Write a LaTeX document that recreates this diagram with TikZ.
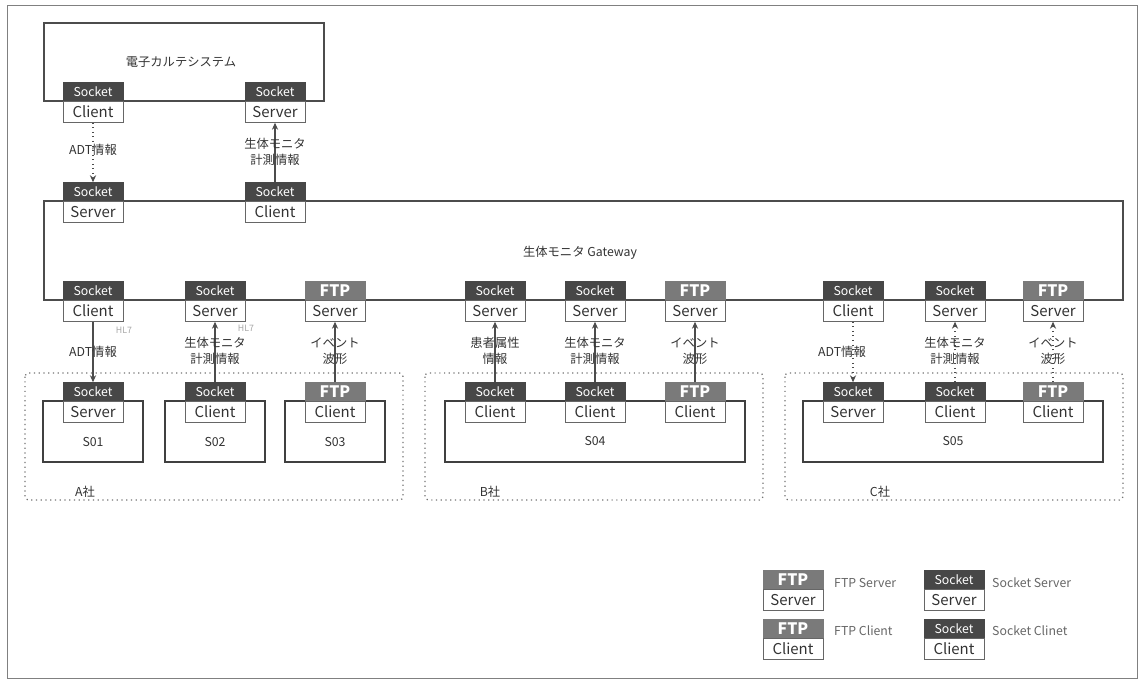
\documentclass[tikz,border=0pt]{standalone}
\usepackage{fontspec}
\setmainfont{Noto Sans CJK JP}
\usetikzlibrary{arrows.meta}

\newcommand{\tabbox}[6]{%
  \node[#4, anchor=south] (#1h) at (#2,#3) {#5};
  \node[role, anchor=north] (#1) at (#2,#3) {#6};
}

\begin{document}
\begin{tikzpicture}[>=Stealth, x=0.02cm, y=-0.02cm,
    line/.style={draw=black!70, line width=0.6pt},
    sysline/.style={draw=black!75, line width=0.8pt},
    grp/.style={draw=black!55, dotted, line width=0.7pt, rounded corners=2pt},
    sockhead/.style={fill=black!72, draw=black!72, text=white, minimum width=1.2cm, minimum height=0.36cm, inner sep=0pt, font=\fontsize{7}{7}\selectfont},
    ftphead/.style={fill=black!52, draw=black!52, text=white, minimum width=1.2cm, minimum height=0.36cm, inner sep=0pt, font=\bfseries\fontsize{9}{9}\selectfont},
    role/.style={fill=white, draw=black!60, text=black!80, minimum width=1.2cm, minimum height=0.42cm, inner sep=0pt, font=\fontsize{8.5}{8.5}\selectfont},
    lbl/.style={text=black!80, align=center, font=\fontsize{7}{9}\selectfont},
    hl/.style={text=black!35, font=\fontsize{5}{5}\selectfont},
    flow/.style={->, black!70, line width=0.6pt, >={Stealth[length=4pt,width=3.5pt]}},
    dflow/.style={flow, dotted}]
    \useasboundingbox (0,0) rectangle (1141,680);
    \draw[black!50] (7,5) rectangle (1137,678);

    \draw[line] (44,23) rectangle (324,101);
    \node[lbl] (ehr) at (181,62) {電子カルテシステム};
    \draw[line] (44,201) rectangle (1123,300);
    \node[lbl] (gw) at (580,253) {生体モニタ Gateway};

    \draw[grp] (25,373) rectangle (403,500);
    \draw[grp] (425,373) rectangle (763,500);
    \draw[grp] (785,373) rectangle (1123,500);
    \node[lbl] (ca) at (85,492) {A社};
    \node[lbl] (cb) at (490,492) {B社};
    \node[lbl] (cc) at (880,492) {C社};

    \draw[sysline] (43,401) rectangle (143,462);
    \draw[sysline] (165,401) rectangle (265,462);
    \draw[sysline] (285,401) rectangle (385,462);
    \draw[sysline] (445,401) rectangle (745,462);
    \draw[sysline] (803,401) rectangle (1103,462);
    \node[lbl] (s01) at (93,442) {S01};
    \node[lbl] (s02) at (215,442) {S02};
    \node[lbl] (s03) at (335,442) {S03};
    \node[lbl] (s04) at (595,441) {S04};
    \node[lbl] (s05) at (953,441) {S05};

    \tabbox{ehrc}{93}{101}{sockhead}{Socket}{Client}
    \tabbox{ehrs}{275}{101}{sockhead}{Socket}{Server}
    \tabbox{gtops}{93}{201}{sockhead}{Socket}{Server}
    \tabbox{gtopc}{275}{201}{sockhead}{Socket}{Client}

    \tabbox{gac}{93}{300}{sockhead}{Socket}{Client}
    \tabbox{gas}{215}{300}{sockhead}{Socket}{Server}
    \tabbox{gaf}{335}{300}{ftphead}{FTP}{Server}
    \tabbox{gbs}{495}{300}{sockhead}{Socket}{Server}
    \tabbox{gbm}{595}{300}{sockhead}{Socket}{Server}
    \tabbox{gbf}{695}{300}{ftphead}{FTP}{Server}
    \tabbox{gcc}{853}{300}{sockhead}{Socket}{Client}
    \tabbox{gcs}{955}{300}{sockhead}{Socket}{Server}
    \tabbox{gcf}{1053}{300}{ftphead}{FTP}{Server}

    \tabbox{as}{93}{401}{sockhead}{Socket}{Server}
    \tabbox{ac}{215}{401}{sockhead}{Socket}{Client}
    \tabbox{af}{335}{401}{ftphead}{FTP}{Client}
    \tabbox{bc}{495}{401}{sockhead}{Socket}{Client}
    \tabbox{bm}{595}{401}{sockhead}{Socket}{Client}
    \tabbox{bf}{695}{401}{ftphead}{FTP}{Client}
    \tabbox{cs}{853}{401}{sockhead}{Socket}{Server}
    \tabbox{cc2}{955}{401}{sockhead}{Socket}{Client}
    \tabbox{cf}{1053}{401}{ftphead}{FTP}{Client}

    \draw[dflow] (ehrc.south) -- (gtopsh.north);
    \draw[flow] (gtopch.north) -- (ehrs.south);
    \node[lbl] (t1) at (93,150) {ADT情報};
    \node[lbl] (t2) at (275,152) {生体モニタ\\計測情報};

    \draw[flow] (gac.south) -- (ash.north);
    \draw[flow] (ach.north) -- (gas.south);
    \draw[flow] (afh.north) -- (gaf.south);
    \node[lbl] (t3) at (93,352) {ADT情報};
    \node[lbl] (t4) at (215,351) {生体モニタ\\計測情報};
    \node[lbl] (t5) at (335,351) {イベント\\波形};
    \node[hl] (h1) at (124,330) {HL7};
    \node[hl] (h2) at (246,328) {HL7};

    \draw[flow] (bch.north) -- (gbs.south);
    \draw[flow] (bmh.north) -- (gbm.south);
    \draw[flow] (bfh.north) -- (gbf.south);
    \node[lbl] (t6) at (495,351) {患者属性\\情報};
    \node[lbl] (t7) at (595,351) {生体モニタ\\計測情報};
    \node[lbl] (t8) at (695,351) {イベント\\波形};

    \draw[dflow] (gcc.south) -- (csh.north);
    \draw[dflow] (cc2h.north) -- (gcs.south);
    \draw[dflow] (cfh.north) -- (gcf.south);
    \node[lbl] (t9) at (842,352) {ADT情報};
    \node[lbl] (t10) at (955,351) {生体モニタ\\計測情報};
    \node[lbl] (t11) at (1053,351) {イベント\\波形};

    \tabbox{lfs}{793}{589}{ftphead}{FTP}{Server}
    \tabbox{lss}{954}{589}{sockhead}{Socket}{Server}
    \tabbox{lfc}{793}{638}{ftphead}{FTP}{Client}
    \tabbox{lsc}{954}{638}{sockhead}{Socket}{Client}
    \node[lbl, text=black!60, anchor=west] (k1) at (828,583) {FTP Server};
    \node[lbl, text=black!60, anchor=west] (k2) at (986,583) {Socket Server};
    \node[lbl, text=black!60, anchor=west] (k3) at (828,631) {FTP Client};
    \node[lbl, text=black!60, anchor=west] (k4) at (986,631) {Socket Clinet};
\end{tikzpicture}
\end{document}
